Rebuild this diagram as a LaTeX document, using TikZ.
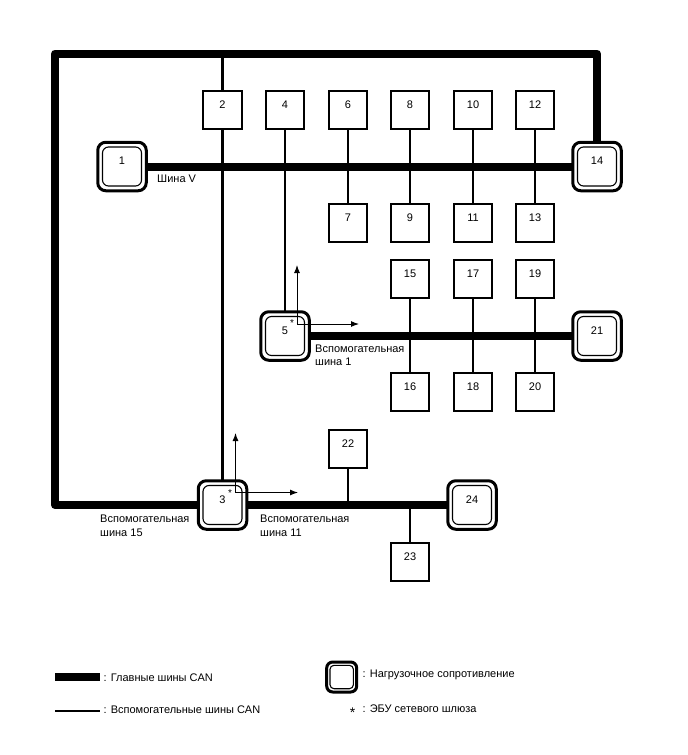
\documentclass[tikz,border=0pt]{standalone}
\usepackage{fontspec}
\setmainfont{Liberation Sans}
\usetikzlibrary{arrows.meta,calc}
\tikzset{
 ecu/.style={draw=black,line width=1.8pt,fill=white,minimum size=38.5pt,inner sep=0pt,font=\fontsize{11}{13}\selectfont},
 term/.style={draw=black,line width=3pt,fill=white,rounded corners=8pt,minimum size=48.5pt,inner sep=0pt,font=\fontsize{11}{13}\selectfont,
   path picture={\draw[black,line width=1.1pt,rounded corners=6pt] ([shift={(-19.5,-19.5)}]path picture bounding box.center) rectangle ([shift={(19.5,19.5)}]path picture bounding box.center);}},
 legterm/.style={draw=black,line width=3pt,rounded corners=6pt,minimum size=30pt,inner sep=0pt,
   path picture={\draw[black,line width=1.1pt,rounded corners=4pt] ([shift={(-11.7,-11.7)}]path picture bounding box.center) rectangle ([shift={(11.7,11.7)}]path picture bounding box.center);}},
 mainbus/.style={line width=8pt,draw=black},
 subbus/.style={line width=2.6pt,draw=black},
 dirarrow/.style={line width=1pt,draw=black,-{Latex[length=8pt,width=6pt]}},
 lbl/.style={font=\fontsize{11}{13.5}\selectfont,inner sep=0pt,anchor=north west,align=left},
 star/.style={font=\fontsize{10}{12}\selectfont,inner sep=0pt}
}
\newcommand{\up}[1]{\raisebox{11pt}{#1}}
\begin{document}
\begin{tikzpicture}[x=1pt,y=-1pt]
\useasboundingbox (0,0) rectangle (688,755);
\coordinate (c1) at (122,166.5);
\coordinate (c14) at (597,166.5);
\coordinate (c3) at (222.5,505);
\coordinate (c5) at (285,336);
\coordinate (c21) at (597,336);
\coordinate (c24) at (472,505);
\coordinate (frameTR) at (597,53.5);
\coordinate (frameTL) at (55,53.5);
\coordinate (frameBL) at (55,505);
\coordinate (top2) at (222.5,53.5);
\coordinate (j22) at (348,505);
\coordinate (j23) at (410,505);
% buses
\draw[mainbus,line join=round] (c14) -- (frameTR) -- (frameTL) -- (frameBL) -- (c3);
\draw[mainbus] (c1) -- (c14);
\draw[mainbus] (c5) -- (c21);
\draw[mainbus] (c3) -- (c24);
% sub buses
\draw[subbus] (top2) -- (c3);
\draw[subbus] (285,110) -- (c5);
\draw[subbus] (348,110) -- (348,223);
\draw[subbus] (410,110) -- (410,223);
\draw[subbus] (473,110) -- (473,223);
\draw[subbus] (535,110) -- (535,223);
\draw[subbus] (410,279) -- (410,392);
\draw[subbus] (473,279) -- (473,392);
\draw[subbus] (535,279) -- (535,392);
\draw[subbus] (348,449) -- (j22);
\draw[subbus] (j23) -- (410,562);
% boxes
\node[ecu] (n2) at (222.5,110) {\up{2}};
\node[ecu] (n4) at (285,110) {\up{4}};
\node[ecu] (n6) at (348,110) {\up{6}};
\node[ecu] (n8) at (410,110) {\up{8}};
\node[ecu] (n10) at (473,110) {\up{10}};
\node[ecu] (n12) at (535,110) {\up{12}};
\node[ecu] (n7) at (348,223) {\up{7}};
\node[ecu] (n9) at (410,223) {\up{9}};
\node[ecu] (n11) at (473,223) {\up{11}};
\node[ecu] (n13) at (535,223) {\up{13}};
\node[ecu] (n15) at (410,279) {\up{15}};
\node[ecu] (n17) at (473,279) {\up{17}};
\node[ecu] (n19) at (535,279) {\up{19}};
\node[ecu] (n16) at (410,392) {\up{16}};
\node[ecu] (n18) at (473,392) {\up{18}};
\node[ecu] (n20) at (535,392) {\up{20}};
\node[ecu] (n22) at (348,449) {\up{22}};
\node[ecu] (n23) at (410,562) {\up{23}};
% terminated nodes
\node[term] (n1) at (c1) {\up{1}};
\node[term] (n14) at (c14) {\up{14}};
\node[term] (n5) at (c5) {\up{5}};
\node[term] (n21) at (c21) {\up{21}};
\node[term] (n3) at (c3) {\up{3}};
\node[term] (n24) at (c24) {\up{24}};
% direction arrows
\coordinate (o5) at (297,324);
\coordinate (o3) at (235.5,492.5);
\draw[dirarrow] (o5) -- (297,265);
\draw[dirarrow] (o5) -- (359,324);
\draw[dirarrow] (o3) -- (235.5,433);
\draw[dirarrow] (o3) -- (298,492.5);
\node[star] (s5) at (292,323.5) {*};
\node[star] (s3) at (230,493.5) {*};
% labels
\node[lbl] (t1) at (157,174.5) {Шина V};
\node[lbl] (t2) at (315,344.5) {Вспомогательная\\шина 1};
\node[lbl] (t3) at (100,515) {Вспомогательная\\шина 15};
\node[lbl] (t4) at (260,515) {Вспомогательная\\шина 11};
% legend
\coordinate (la) at (55,677);\coordinate (lb) at (100,677);
\coordinate (lc) at (55,711);\coordinate (ld) at (100,711);
\draw[mainbus] (la) -- (lb);
\draw[subbus] (lc) -- (ld);
\node[legterm] (lt) at (341.7,677) {};
\node[star,font=\fontsize{14}{14}\selectfont] (ls) at (352.5,713) {*};
\node[lbl,anchor=west] (l1) at (103.5,678) {: Главные шины CAN};
\node[lbl,anchor=west] (l2) at (103.5,710) {: Вспомогательные шины CAN};
\node[lbl,anchor=west] (l3) at (362.5,674.5) {: Нагрузочное сопротивление};
\node[lbl,anchor=west] (l4) at (362.5,709) {: ЭБУ сетевого шлюза};
\end{tikzpicture}
\end{document}
